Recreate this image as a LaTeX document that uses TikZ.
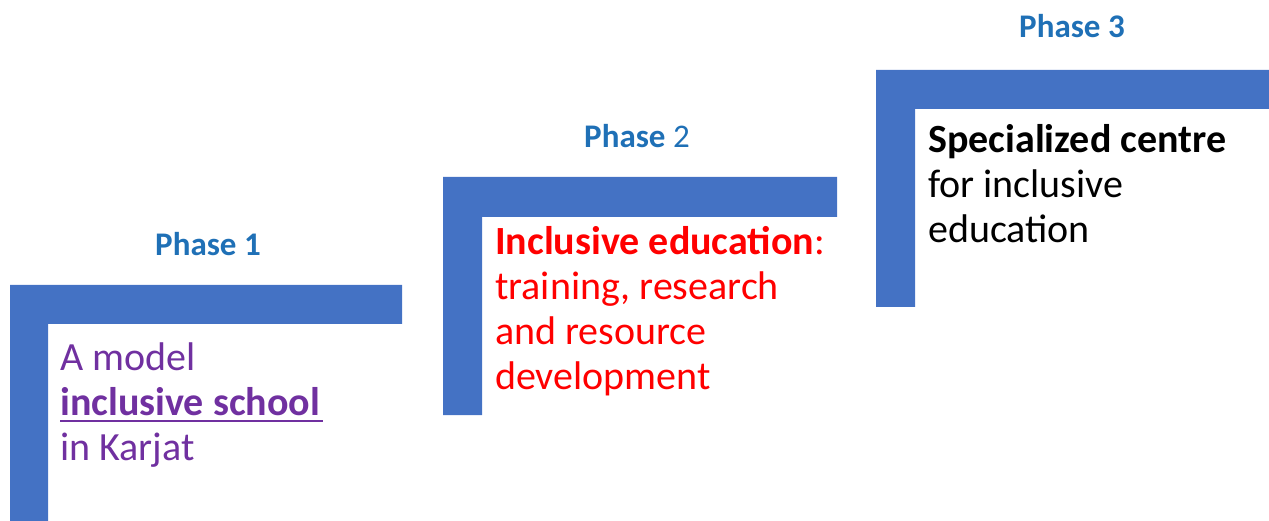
\documentclass[tikz,border=0pt]{standalone}
\usepackage{fontspec}
\setmainfont{Carlito}
\usepackage{xcolor}
\usetikzlibrary{positioning}
\definecolor{barblue}{RGB}{68,114,196}
\definecolor{phaseblue}{RGB}{31,112,182}
\definecolor{schoolpurple}{RGB}{112,48,160}
\tikzstyle{bar} = [fill=barblue, draw=none]
\tikzstyle{phase} = [anchor=base, inner sep=0pt, text=phaseblue, font=\fontsize{33}{38}\selectfont\bfseries]
\tikzstyle{stepbox} = [anchor=base west, inner sep=0pt, align=left, font=\fontsize{40}{45}\selectfont]

\begin{document}
\begin{tikzpicture}[x=1pt, y=-1pt]
            \useasboundingbox (0,0) rectangle (1269,521);
            % stair bars
            \path[bar] (10,521) -- (10,285) -- (402,285) -- (402,324) -- (48,324) -- (48,521) -- cycle;
            \path[bar] (443,415) -- (443,177) -- (837,177) -- (837,217) -- (482,217) -- (482,415) -- cycle;
            \path[bar] (876,307) -- (876,70) -- (1269,70) -- (1269,109) -- (915,109) -- (915,307) -- cycle;

            \node[phase] (ph1) at (208,256) {Phase 1};
            \node[phase] (ph2) at (637,148) {Phase {\mdseries 2}};
            \node[phase] (ph3) at (1072,38) {Phase 3};

            % base anchor sits on the last line
            \node[stepbox, text=schoolpurple] (s1) at (60,460)
                {A model\\\textbf{inclusive school}\\in Karjat};
            \node[stepbox, text=red] (s2) at (495,389)
                {\textbf{Inclusive education}:\\training, research\\and resource\\development};
            \node[stepbox, text=black] (s3) at (928,243)
                {\textbf{Specialized centre}\\for inclusive\\education};

            % underline of the school line
            \coordinate (u1) at (60,421);
            \coordinate (u2) at (323,421);
            \draw[schoolpurple, line width=2.5pt] (u1) -- (u2);
        \end{tikzpicture}
\end{document}
